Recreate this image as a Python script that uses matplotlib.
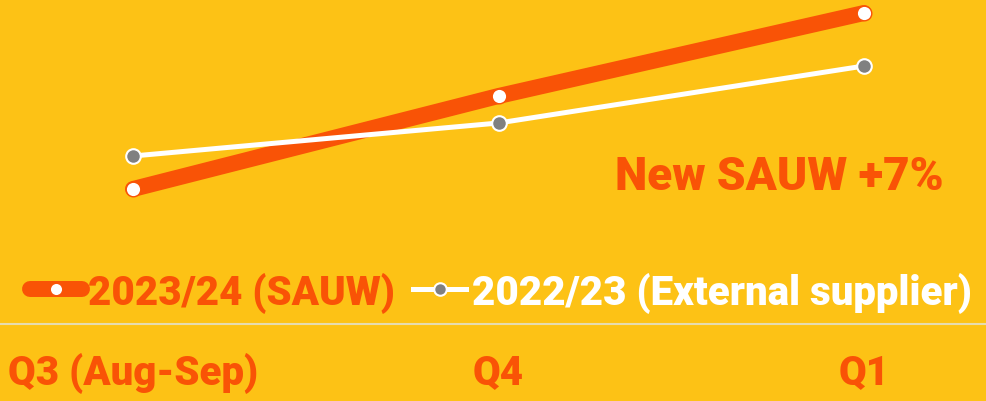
import matplotlib.pyplot as plt
from matplotlib.lines import Line2D

# data (arbitrary units)
quarters = ["Q3 (Aug-Sep)", "Q4", "Q1"]
sauw_2324 = [60, 153, 236]
external_2223 = [93, 126, 183]
series_labels = ["2023/24 (SAUW)", "2022/23 (External supplier)"]
note = "New SAUW +7%"

bg = "#FDC215"
orange = "#F95306"
grey = "#808080"

plt.rcParams["font.family"] = ["Roboto", "DejaVu Sans"]

fig = plt.figure(figsize=(9.87, 4.02), dpi=100, facecolor=bg)
ax = fig.add_axes([0, 77 / 402, 1, 325 / 402])
ax.set_facecolor(bg)

x = list(range(len(quarters)))
ax.plot(x, sauw_2324, color=orange, lw=11.5, solid_capstyle="round",
        marker="o", ms=10.5, mfc="white", mec=orange, mew=1, zorder=2)
ax.plot(x, external_2223, color="white", lw=3.6,
        marker="o", ms=10.5, mfc=grey, mec="white", mew=1.5, zorder=3)

ax.set_xlim(-133 / 365.5, (987 - 133) / 365.5)
ax.set_ylim(-75, 250)

for s in ["top", "left", "right"]:
    ax.spines[s].set_visible(False)
ax.spines["bottom"].set_color("#E6DCB0")
ax.spines["bottom"].set_linewidth(1.5)
ax.set_yticks([])
ax.set_xticks(x)
ax.set_xticklabels(quarters, color=orange, fontsize=29, fontweight="black")
ax.tick_params(axis="x", length=0, pad=20)

ax.text(615 / 987, (325 - 177) / 325, note, transform=ax.transAxes,
        color=orange, fontsize=33, fontweight="black", va="center", ha="left")

handles = [
    Line2D([], [], color=orange, lw=11.5, solid_capstyle="round",
           marker="o", ms=9, mfc="white", mec=orange),
    Line2D([], [], color="white", lw=3.6, marker="o", ms=9,
           mfc=grey, mec="white", mew=1.5),
]
leg = ax.legend(handles, series_labels, loc="center left",
                bbox_to_anchor=(30 / 987, (325 - 293) / 325), ncol=2,
                frameon=False, handlelength=1.3,
                handletextpad=0.15, columnspacing=0.45, borderaxespad=0,
                borderpad=0, labelcolor=[orange, "white"],
                prop={"weight": "black", "size": 29})

fig.savefig("out.png", dpi=100, facecolor=bg)
